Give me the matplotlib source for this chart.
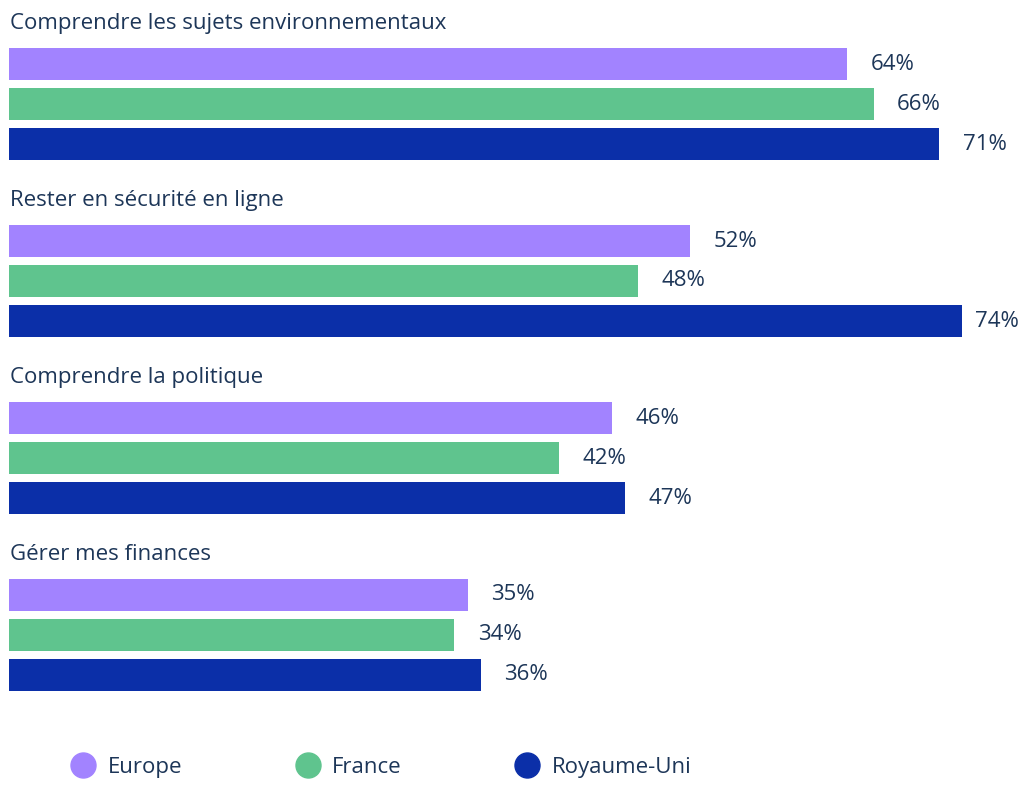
import matplotlib.pyplot as plt
from matplotlib.lines import Line2D

# ------------------------------
# Data
# ------------------------------
CATEGORIES = [
    "Comprendre les sujets environnementaux",
    "Rester en sécurité en ligne",
    "Comprendre la politique",
    "Gérer mes finances",
]
SERIES = ["Europe", "France", "Royaume-Uni"]
EUROPE = [64, 52, 46, 35]
FRANCE = [66, 48, 42, 34]
ROYAUME_UNI = [71, 74, 47, 36]

COLORS = ["#a283ff", "#5fc48e", "#0b2fa8"]
TEXT_COLOR = "#1d3658"

plt.rcParams["font.family"] = ["Open Sans", "DejaVu Sans"]

# ------------------------------
# Layout (pixels / units)
# ------------------------------
W, H, DPI = 1024, 794, 100
LEFT_PX, RIGHT_PX = 9, 962
PX_PER_PCT = 13.1
ROW_PX = 40.0
FIRST_ROW_PX = 64
GROUP_PITCH = 4.425
BAR_H = 0.8
FS = 16

fig = plt.figure(figsize=(W / DPI, H / DPI), dpi=DPI)
ax = fig.add_axes([LEFT_PX / W, 0, (RIGHT_PX - LEFT_PX) / W, 1])
ax.set_xlim(0, (RIGHT_PX - LEFT_PX) / PX_PER_PCT)
ax.set_ylim((H - FIRST_ROW_PX) / ROW_PX, -FIRST_ROW_PX / ROW_PX)
ax.axis("off")

xmax = ax.get_xlim()[1]
all_series = [EUROPE, FRANCE, ROYAUME_UNI]

for g, cat in enumerate(CATEGORIES):
    base = g * GROUP_PITCH
    ax.text(0.05, base - 1.02, cat, fontsize=FS, color=TEXT_COLOR,
            va="center", ha="left")
    for s, values in enumerate(all_series):
        y = base + s
        v = values[g]
        ax.barh(y, v, height=BAR_H, color=COLORS[s], left=0)
        # bars longer than the plot area are cut at its edge
        end = min(v, xmax)
        pad = 17 if v <= xmax else 9
        ax.annotate(f"{v}%", (end, y), xytext=(pad, 0),
                    textcoords="offset points", va="center", ha="left",
                    fontsize=FS, color=TEXT_COLOR, annotation_clip=False)

handles = [
    Line2D([], [], marker="o", linestyle="none", markersize=18,
           markerfacecolor=c, markeredgecolor=c)
    for c in COLORS
]
fig.legend(handles, SERIES, loc="center left", bbox_to_anchor=(0.051, 0.034),
           ncol=3, frameon=False, fontsize=FS, labelcolor=TEXT_COLOR,
           handletextpad=0.6, columnspacing=5.15, handlelength=1.0)

fig.savefig("out.png", dpi=DPI)
